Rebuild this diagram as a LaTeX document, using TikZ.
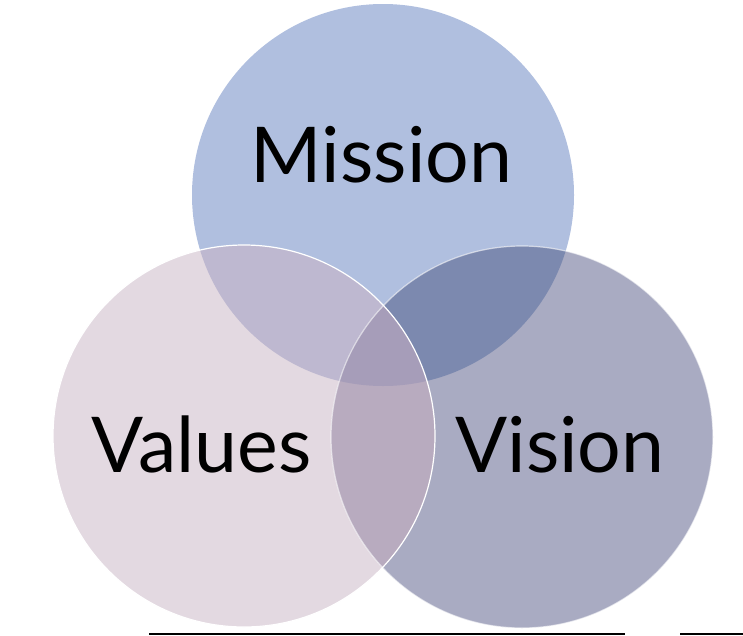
\documentclass[tikz,border=0pt]{standalone}
\usepackage{fontspec}
\setmainfont{Lato}
\usetikzlibrary{positioning}
\definecolor{MissionColor}{RGB}{176,191,223}
\definecolor{ValuesColor}{RGB}{227,217,225}
\definecolor{VisionColor}{RGB}{169,171,194}
\definecolor{MissValColor}{RGB}{190,184,208}
\definecolor{MissVisColor}{RGB}{124,137,175}
\definecolor{ValVisColor}{RGB}{184,171,191}
\definecolor{CoreColor}{RGB}{166,157,185}
\begin{document}
\begin{tikzpicture}[x=1pt, y=-1pt,
    ring/.style={draw=white, line width=1.2pt},
    word/.style={font=\fontsize{77}{77}\selectfont, text=black, inner sep=0pt, anchor=base}]
  \useasboundingbox (0,0) rectangle (743,635);
  \coordinate (cmission) at (383,195);
  \coordinate (cvalues) at (244,436);
  \coordinate (cvision) at (522,437);
  % base discs
  \fill[MissionColor] (cmission) circle (191pt);
  \fill[ValuesColor] (cvalues) circle (191pt);
  \fill[VisionColor] (cvision) circle (191pt);
  % overlaps
  \begin{scope}
    \clip (cmission) circle (191pt);
    \fill[MissValColor] (cvalues) circle (191pt);
    \fill[MissVisColor] (cvision) circle (191pt);
  \end{scope}
  \begin{scope}
    \clip (cvalues) circle (191pt);
    \fill[ValVisColor] (cvision) circle (191pt);
    \clip (cvision) circle (191pt);
    \fill[CoreColor] (cmission) circle (191pt);
  \end{scope}
  % outlines
  \draw[ring, draw opacity=0.6] (cvision) circle (191pt);
  \draw[ring] (cvalues) circle (191pt);
  % labels
  \node[word] (mission) at (381.5,182) {Mission};
  \node[word] (values) at (201.5,472) {Values};
  \node[word] (vision) at (560,472) {Vision};
  % rule under the picture
  \draw[line width=1.5pt] (149,634) -- (625,634);
  \draw[line width=1.5pt] (680,634) -- (743,634);
\end{tikzpicture}
\end{document}
